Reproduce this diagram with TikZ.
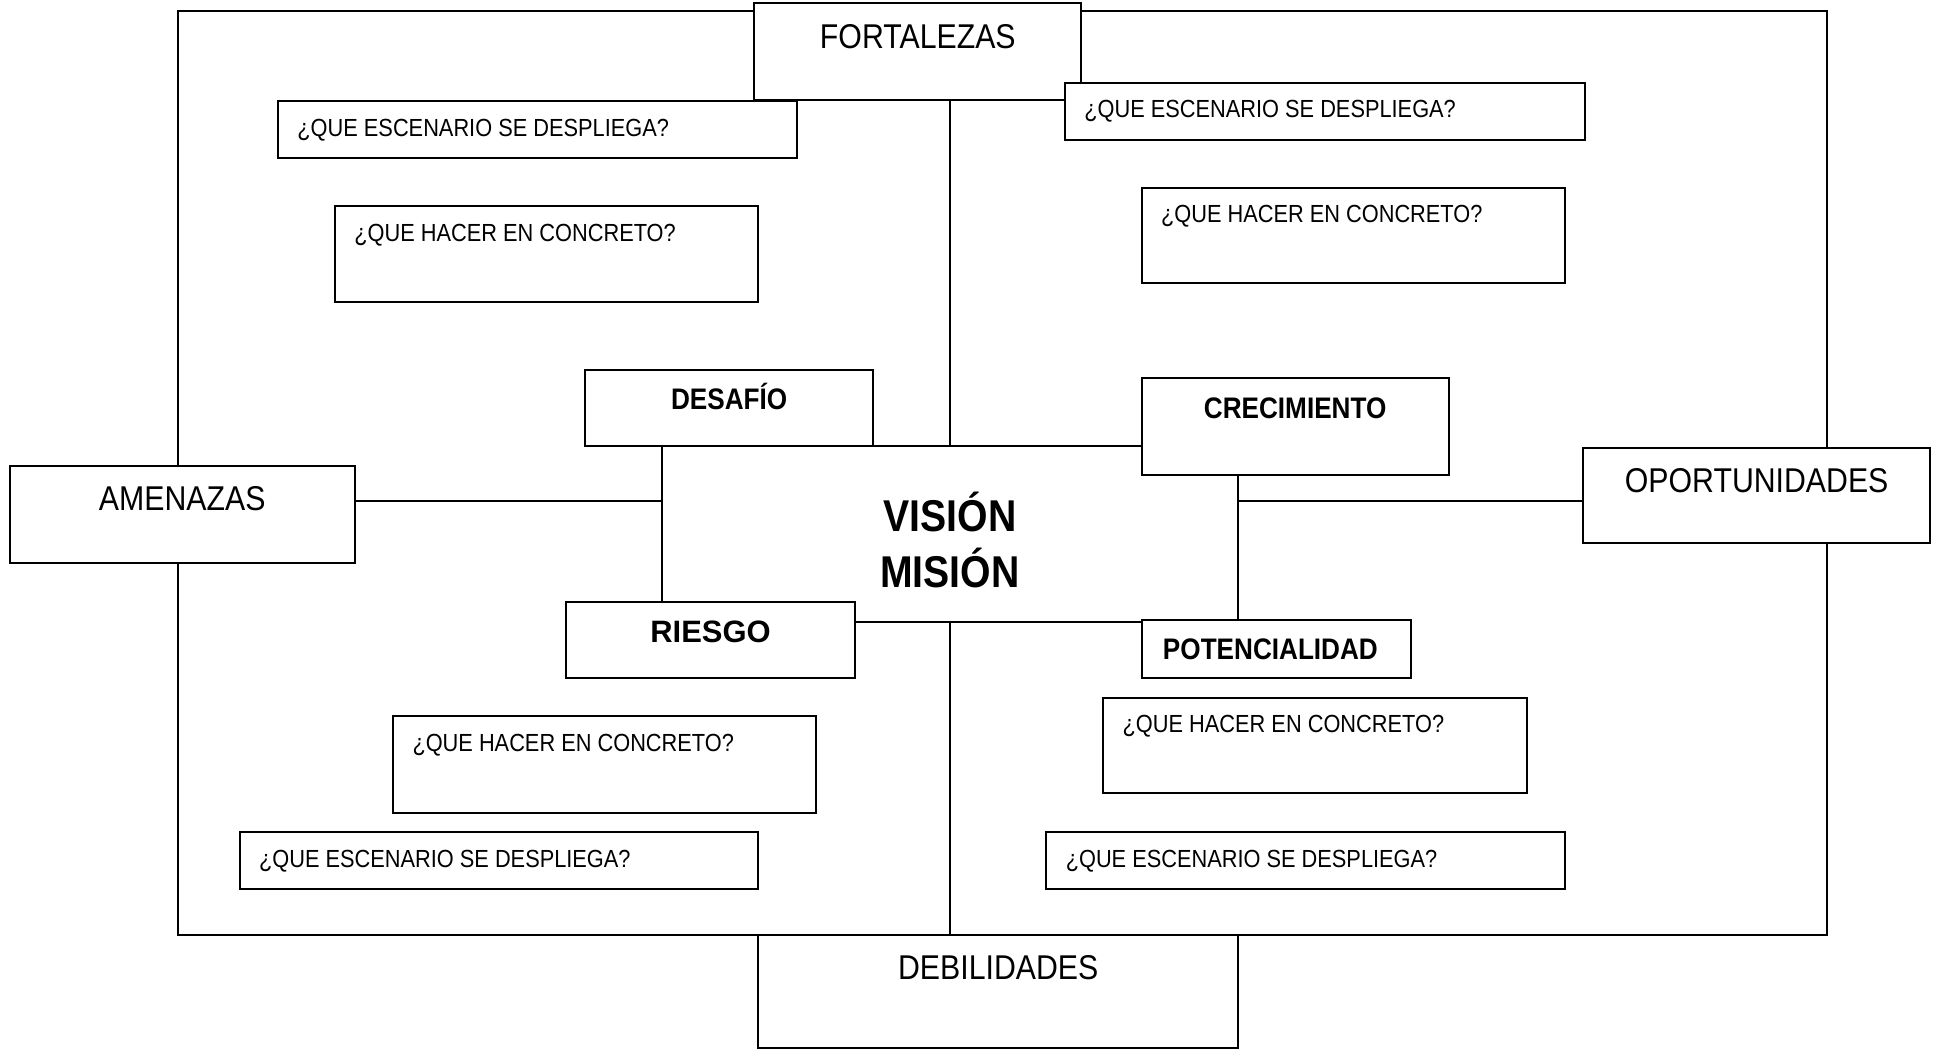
\documentclass[tikz,border=0pt]{standalone}
\usepackage{fontspec}
\setmainfont{Liberation Sans}[FakeStretch=0.88]
\newfontfamily\anchafont{Liberation Sans}
\begin{document}
\begin{tikzpicture}[x=0.5pt,y=-0.5pt,
caja/.style={draw,fill=white,line width=0.8pt,anchor=north west,inner sep=0pt},
linea/.style={line width=0.8pt},
grande/.style={anchor=base,font=\fontsize{13.9}{16}\selectfont},
negrita/.style={anchor=base,font=\fontsize{12}{14}\selectfont\bfseries},
pregunta/.style={anchor=base west,inner sep=0pt,font=\fontsize{10}{12}\selectfont}]
\useasboundingbox (0,0) rectangle (1568,848);
\node[caja,minimum width=666.5pt,minimum height=373.5pt] (marco) at (143,8) {};
\node[caja,minimum width=233pt,minimum height=71pt] (centro) at (534,360) {};
\node[align=center,font=\fontsize{18}{22.5}\selectfont\bfseries] (vision) at ([yshift=-2.25pt]centro.center) {VISIÓN\\MISIÓN};

\node[caja,minimum width=132pt,minimum height=39pt] (fort) at (609,2) {};
\node[caja,minimum width=139.5pt,minimum height=39pt] (amen) at (7,376) {};
\node[caja,minimum width=140pt,minimum height=38.5pt] (opor) at (1279,361) {};
\node[caja,minimum width=194pt,minimum height=45.5pt] (debi) at (612,755) {};
\coordinate (pa) at ([yshift=5.5pt]amen.east);
\coordinate (po) at ([yshift=-2.25pt]opor.west);
\draw[linea] (centro.north) -- (centro.north |- fort.south);
\draw[linea] (centro.south) -- (centro.south |- debi.north);
\draw[linea] (pa) -- (pa -| centro.west);
\draw[linea] (po) -- (po -| centro.east);
\node[grande] (fortt) at ([yshift=-18.5pt]fort.north) {FORTALEZAS};
\node[grande] (ament) at ([yshift=-18.5pt]amen.north) {AMENAZAS};
\node[grande] (oport) at ([yshift=-18.5pt]opor.north) {OPORTUNIDADES};
\node[grande] (debit) at ([yshift=-18.5pt]debi.north) {DEBILIDADES};

\node[caja,minimum width=116.5pt,minimum height=31pt] (desa) at (472,298) {};
\node[caja,minimum width=124pt,minimum height=39pt] (crec) at (922,305) {};
\node[caja,minimum width=116.5pt,minimum height=30.5pt] (ries) at (457,486) {};
\node[caja,minimum width=109pt,minimum height=23.5pt] (pote) at (922,500) {};
\node[negrita] (desat) at ([yshift=-16.5pt]desa.north) {DESAFÍO};
\node[negrita] (crect) at ([yshift=-16.5pt]crec.north) {CRECIMIENTO};
\node[negrita,font=\fontsize{12.5}{14}\anchafont\bfseries] (riest) at ([yshift=-16.5pt]ries.north) {RIESGO};
\node[negrita] (potet) at ([xshift=-2.5pt,yshift=-16.5pt]pote.north) {POTENCIALIDAD};

\node[caja,minimum width=209.5pt,minimum height=23pt] (esc1) at (224,81) {};
\node[caja,minimum width=171pt,minimum height=38.5pt] (hac1) at (270,166) {};
\node[caja,minimum width=210pt,minimum height=23pt] (esc2) at (860,66) {};
\node[caja,minimum width=171pt,minimum height=38.5pt] (hac2) at (922,151) {};
\node[caja,minimum width=171pt,minimum height=39pt] (hac3) at (317,578) {};
\node[caja,minimum width=209.5pt,minimum height=23pt] (esc3) at (193,672) {};
\node[caja,minimum width=171pt,minimum height=38.5pt] (hac4) at (891,563) {};
\node[caja,minimum width=209.5pt,minimum height=23pt] (esc4) at (845,672) {};
\node[pregunta] (esc1t) at ([xshift=8pt,yshift=-14.5pt]esc1.north west) {¿QUE ESCENARIO SE DESPLIEGA?};
\node[pregunta] (hac1t) at ([xshift=8pt,yshift=-14.5pt]hac1.north west) {¿QUE HACER EN CONCRETO?};
\node[pregunta] (esc2t) at ([xshift=8pt,yshift=-14.5pt]esc2.north west) {¿QUE ESCENARIO SE DESPLIEGA?};
\node[pregunta] (hac2t) at ([xshift=8pt,yshift=-14.5pt]hac2.north west) {¿QUE HACER EN CONCRETO?};
\node[pregunta] (hac3t) at ([xshift=8pt,yshift=-14.5pt]hac3.north west) {¿QUE HACER EN CONCRETO?};
\node[pregunta] (esc3t) at ([xshift=8pt,yshift=-14.5pt]esc3.north west) {¿QUE ESCENARIO SE DESPLIEGA?};
\node[pregunta] (hac4t) at ([xshift=8pt,yshift=-14.5pt]hac4.north west) {¿QUE HACER EN CONCRETO?};
\node[pregunta] (esc4t) at ([xshift=8pt,yshift=-14.5pt]esc4.north west) {¿QUE ESCENARIO SE DESPLIEGA?};
\end{tikzpicture}
\end{document}
